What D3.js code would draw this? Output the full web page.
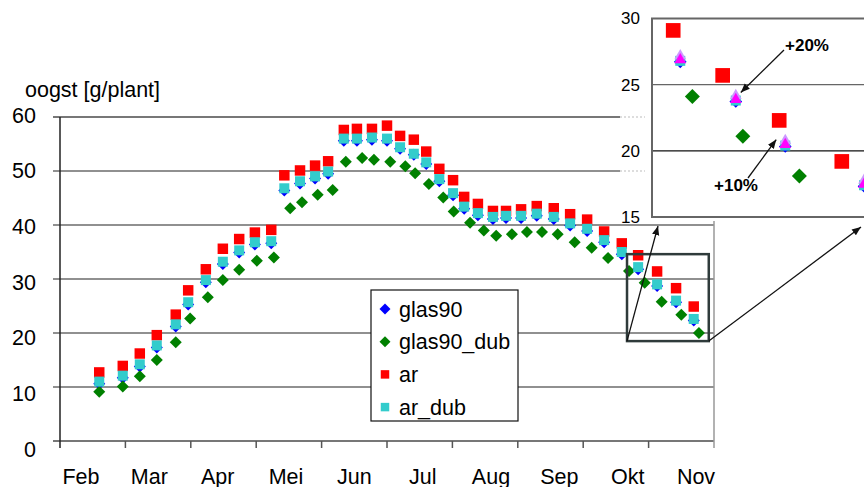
<!DOCTYPE html>
<html>
<head>
<meta charset="utf-8">
<script src="https://cdn.jsdelivr.net/npm/d3@7"></script>
<style>
  body { margin: 0; background: #fff; }
  svg { display: block; font-family: "Liberation Sans", Arial, sans-serif; }
</style>
</head>
<body>
<div id="chart"></div>
<script>
// DATA ***********************************************
var months = ["Feb", "Mar", "Apr", "Mei", "Jun", "Jul", "Aug", "Sep", "Okt", "Nov"];
var yTicks = [0, 10, 20, 30, 40, 50, 60];

// harvest dates, in months since 1 Feb
var weekAr = [0.60, 0.96, 1.22, 1.48, 1.77, 1.96, 2.23, 2.49, 2.74, 2.98, 3.23, 3.43, 3.67, 3.90, 4.10,
        4.34, 4.54, 4.77, 5.00, 5.20, 5.41, 5.60, 5.80, 6.01, 6.18, 6.39, 6.62, 6.82, 7.05, 7.29,
        7.55, 7.80, 8.06, 8.32, 8.59, 8.84, 9.13, 9.42, 9.69];
var weekDub = [0.60, 0.96, 1.22, 1.48, 1.77, 1.99, 2.26, 2.49, 2.74, 3.01, 3.27, 3.52, 3.70, 3.94, 4.17,
        4.37, 4.62, 4.80, 5.05, 5.28, 5.43, 5.64, 5.86, 6.02, 6.27, 6.48, 6.67, 6.91, 7.14, 7.37,
        7.61, 7.87, 8.13, 8.38, 8.70, 8.94, 9.20, 9.50, 9.77];

var glas90 = [10.6, 11.7, 13.8, 17.3, 21.2, 25.3, 29.4, 32.8, 34.9, 36.4, 36.6, 46.4, 47.7, 48.6, 49.5,
        55.6, 55.6, 55.8, 55.6, 54.1, 53.0, 51.3, 48.1, 45.5, 43.0, 41.8, 41.1, 41.3, 41.3, 41.7,
        41.1, 39.9, 38.9, 36.8, 34.6, 31.8, 28.7, 25.7, 22.3];
var glas90Dub = [9.1, 10.1, 12.0, 15.0, 18.3, 22.7, 26.6, 29.8, 31.7, 33.4, 34.0, 43.1, 44.2, 45.6, 46.5,
        51.7, 52.4, 52.1, 51.7, 50.9, 49.6, 47.6, 45.1, 42.5, 40.4, 39.0, 38.0, 38.3, 38.7, 38.7,
        38.3, 36.8, 35.8, 33.9, 31.5, 29.3, 25.8, 23.4, 20.0];
var ar = [12.7, 13.9, 16.2, 19.6, 23.4, 27.9, 31.8, 35.6, 37.4, 38.6, 39.1, 49.2, 50.1, 51.0, 51.8,
        57.6, 57.8, 57.8, 58.4, 56.5, 55.8, 53.6, 50.4, 48.3, 45.2, 43.9, 42.6, 42.6, 42.9, 43.5,
        43.1, 42.0, 41.0, 38.8, 36.6, 34.4, 31.4, 28.3, 24.9];
var arDub = [11.0, 12.1, 14.2, 17.7, 21.6, 25.7, 29.8, 33.2, 35.3, 36.8, 37.0, 46.8, 48.1, 49.0, 49.9,
        56.0, 56.0, 56.2, 56.0, 54.4, 53.2, 51.6, 48.5, 45.9, 43.4, 42.2, 41.5, 41.7, 41.7, 42.1,
        41.5, 40.3, 39.3, 37.2, 35.0, 32.2, 29.0, 26.0, 22.6];

// inset (zoomed end of season)
var insetTicks = [15, 20, 25, 30];
var insetWeekAr = [8.805, 9.05, 9.33, 9.64];
var insetAr = [29.1, 25.7, 22.3, 19.2];
var insetWeekTri = [8.84, 9.115, 9.36, 9.75];
var insetTri = [26.8, 23.8, 20.4, 17.4];
var insetWeekDub = [8.90, 9.15, 9.43];
var insetDub = [24.1, 21.1, 18.1];

var seriesNames = ["glas90", "glas90_dub", "ar", "ar_dub"];
var seriesColors = ["#0000FF", "#008000", "#FF0000", "#33CCCC"];

// LAYOUT ***********************************************
var width = 864, height = 487;
var plot = {left: 60, right: 714, top: 117, bottom: 441};
var fontSize = 21.5;

var svg = d3.select("#chart").append("svg")
        .attr("width", width)
        .attr("height", height);

var x = d3.scaleLinear().domain([0, months.length]).range([plot.left, plot.right]);
var y = d3.scaleLinear().domain([0, 60]).range([plot.bottom, plot.top]);
// label positions in the picture are spread a bit wider than the ticks
var xLabel = d3.scalePoint().domain(months).range([81, 696]);
var yLabel = d3.scaleLinear().domain([0, 60]).range([449, 115]);

var square = function (area) { return d3.symbol(d3.symbolSquare, area)(); };
var tri = function (area) { return d3.symbol(d3.symbolTriangle, area)(); };

// grid
svg.append("g").selectAll("line")
        .data(yTicks)
        .enter().append("line")
        .attr("x1", plot.left - 7)
        .attr("x2", plot.right)
        .attr("y1", d => y(d))
        .attr("y2", d => y(d))
        .attr("stroke", d => (d == 0 || d == 60) ? "#777" : "#222")
        .attr("stroke-width", d => (d == 0 || d == 60) ? 2 : 1.2);

// axes
svg.append("line")
        .attr("x1", plot.left).attr("x2", plot.left)
        .attr("y1", plot.top).attr("y2", plot.bottom + 7)
        .attr("stroke", "#222").attr("stroke-width", 1.5);
svg.append("line")
        .attr("x1", plot.right).attr("x2", plot.right)
        .attr("y1", plot.top).attr("y2", plot.bottom + 7)
        .attr("stroke", "#999").attr("stroke-width", 1.5);

svg.append("g").selectAll("line")
        .data(d3.range(1, months.length))
        .enter().append("line")
        .attr("x1", d => x(d)).attr("x2", d => x(d))
        .attr("y1", plot.bottom).attr("y2", plot.bottom + 7)
        .attr("stroke", "#555").attr("stroke-width", 1.5);

svg.append("g").selectAll("text")
        .data(months)
        .enter().append("text")
        .attr("x", d => xLabel(d))
        .attr("y", 476)
        .attr("dy", "0.35em")
        .attr("text-anchor", "middle")
        .attr("font-size", fontSize)
        .text(d => d);

svg.append("g").selectAll("text")
        .data(yTicks)
        .enter().append("text")
        .attr("x", 36)
        .attr("y", d => yLabel(d))
        .attr("dy", "0.35em")
        .attr("text-anchor", "end")
        .attr("font-size", fontSize)
        .text(d => d);

svg.append("text")
        .attr("x", 25)
        .attr("y", 97)
        .attr("font-size", fontSize)
        .text("oogst [g/plant]");

// points, drawn in Excel series order
function drawSeries(xs, vals, color, path, rot) {
        svg.append("g").selectAll("path")
                .data(vals)
                .enter().append("path")
                .attr("d", path)
                .attr("transform", (d, i) => "translate(" + x(xs[i]) + "," + y(d) + ") rotate(" + rot + ")")
                .attr("fill", color);
}
drawSeries(weekAr, glas90, seriesColors[0], square(72), 45);
drawSeries(weekDub, glas90Dub, seriesColors[1], square(72), 45);
drawSeries(weekAr, ar, seriesColors[2], square(110), 0);
drawSeries(weekAr, arDub, seriesColors[3], square(100), 0);

// legend
var legend = svg.append("g").attr("transform", "translate(371,290)");
legend.append("rect")
        .attr("width", 147).attr("height", 131)
        .attr("fill", "white").attr("stroke", "#111").attr("stroke-width", 1.2);
var item = legend.selectAll(".item")
        .data(seriesNames)
        .enter().append("g")
        .attr("transform", (d, i) => "translate(14," + (19 + i * 32.7) + ")");
item.append("path")
        .attr("d", (d, i) => i < 2 ? square(60) : square(72))
        .attr("transform", (d, i) => i < 2 ? "rotate(45)" : "")
        .attr("fill", (d, i) => seriesColors[i]);
item.append("text")
        .attr("x", 14)
        .attr("dy", "0.35em")
        .attr("font-size", fontSize)
        .text(d => d);

// zoom box
var box = {x0: 8.67, x1: 9.92, y0: 18.5, y1: 34.6};
svg.append("rect")
        .attr("x", x(box.x0)).attr("y", y(box.y1))
        .attr("width", x(box.x1) - x(box.x0))
        .attr("height", y(box.y0) - y(box.y1))
        .attr("fill", "none").attr("stroke", "#2f3b3b").attr("stroke-width", 2.5);

// INSET ***********************************************
var inset = {left: 652, right: 870, top: 18.5, bottom: 217};
var ix = d3.scaleLinear().domain([8.7, 9.75]).range([inset.left, 864]);
var iy = d3.scaleLinear().domain([15, 30]).range([inset.bottom, inset.top]);

svg.append("rect")
        .attr("x", 620).attr("y", 0).attr("width", 244).attr("height", 221)
        .attr("fill", "white");
svg.append("g").selectAll("line")
        .data([50, 60])
        .enter().append("line")
        .attr("x1", 620).attr("x2", 645)
        .attr("y1", d => y(d)).attr("y2", d => y(d))
        .attr("stroke", "#bbb").attr("stroke-dasharray", "2,2");

var defs = svg.append("defs");
defs.append("clipPath").attr("id", "insetClip")
        .append("rect")
        .attr("x", inset.left).attr("y", 0)
        .attr("width", width - inset.left).attr("height", inset.bottom);
defs.append("marker").attr("id", "arrow")
        .attr("viewBox", "0 0 10 10").attr("refX", 10).attr("refY", 5)
        .attr("markerWidth", 7).attr("markerHeight", 7)
        .attr("orient", "auto")
        .append("path").attr("d", "M0,1 L10,5 L0,9 Z").attr("fill", "#111");

svg.append("g").selectAll("line")
        .data([20, 25])
        .enter().append("line")
        .attr("x1", inset.left).attr("x2", width)
        .attr("y1", d => iy(d)).attr("y2", d => iy(d))
        .attr("stroke", d => d == 20 ? "#111" : "#666")
        .attr("stroke-width", 1.3);
svg.append("path")
        .attr("d", "M" + width + "," + inset.top + "H" + inset.left + "V" + inset.bottom + "H" + width)
        .attr("fill", "none").attr("stroke", "#666").attr("stroke-width", 2);

svg.append("g").selectAll("text")
        .data(insetTicks)
        .enter().append("text")
        .attr("x", 640)
        .attr("y", d => iy(d))
        .attr("dy", "0.35em")
        .attr("text-anchor", "end")
        .attr("font-size", 17)
        .text(d => d);

var ig = svg.append("g").attr("clip-path", "url(#insetClip)");
function insetSeries(xs, vals, color, path, rot, dy) {
        ig.append("g").selectAll("path")
                .data(vals)
                .enter().append("path")
                .attr("d", path)
                .attr("transform", (d, i) => "translate(" + ix(xs[i]) + "," + (iy(d) + dy) + ") rotate(" + rot + ")")
                .attr("fill", color);
}
insetSeries(insetWeekTri, insetTri, "#0000FF", square(80), 45, 1);
insetSeries(insetWeekDub, insetDub, seriesColors[1], square(112), 45, 0);
insetSeries(insetWeekAr, insetAr, seriesColors[2], square(215), 0, 0);
insetSeries(insetWeekTri, insetTri, seriesColors[3], square(100), 0, 0);
insetSeries(insetWeekTri, insetTri, "#CC99FF", tri(60), 0, -5);
insetSeries(insetWeekTri, insetTri, "#FF00FF", tri(60), 0, -1);

// annotations
svg.append("text").attr("x", 785).attr("y", 51)
        .attr("font-size", 17).attr("font-weight", "bold").text("+20%");
svg.append("text").attr("x", 714).attr("y", 191)
        .attr("font-size", 17).attr("font-weight", "bold").text("+10%");

var arrows = [
        [784, 50, ix(insetWeekTri[1]) + 5, iy(insetTri[1]) - 8],
        [748, 178, ix(insetWeekTri[2]) - 9, iy(insetTri[2]) - 6],
        [x(box.x0), y(box.y0), 658, 226],
        [x(box.x1), y(box.y0), 861, 227]
];
svg.append("g").selectAll("line")
        .data(arrows)
        .enter().append("line")
        .attr("x1", d => d[0]).attr("y1", d => d[1])
        .attr("x2", d => d[2]).attr("y2", d => d[3])
        .attr("stroke", "#111").attr("stroke-width", 1.3)
        .attr("marker-end", "url(#arrow)");
</script>
</body>
</html>
